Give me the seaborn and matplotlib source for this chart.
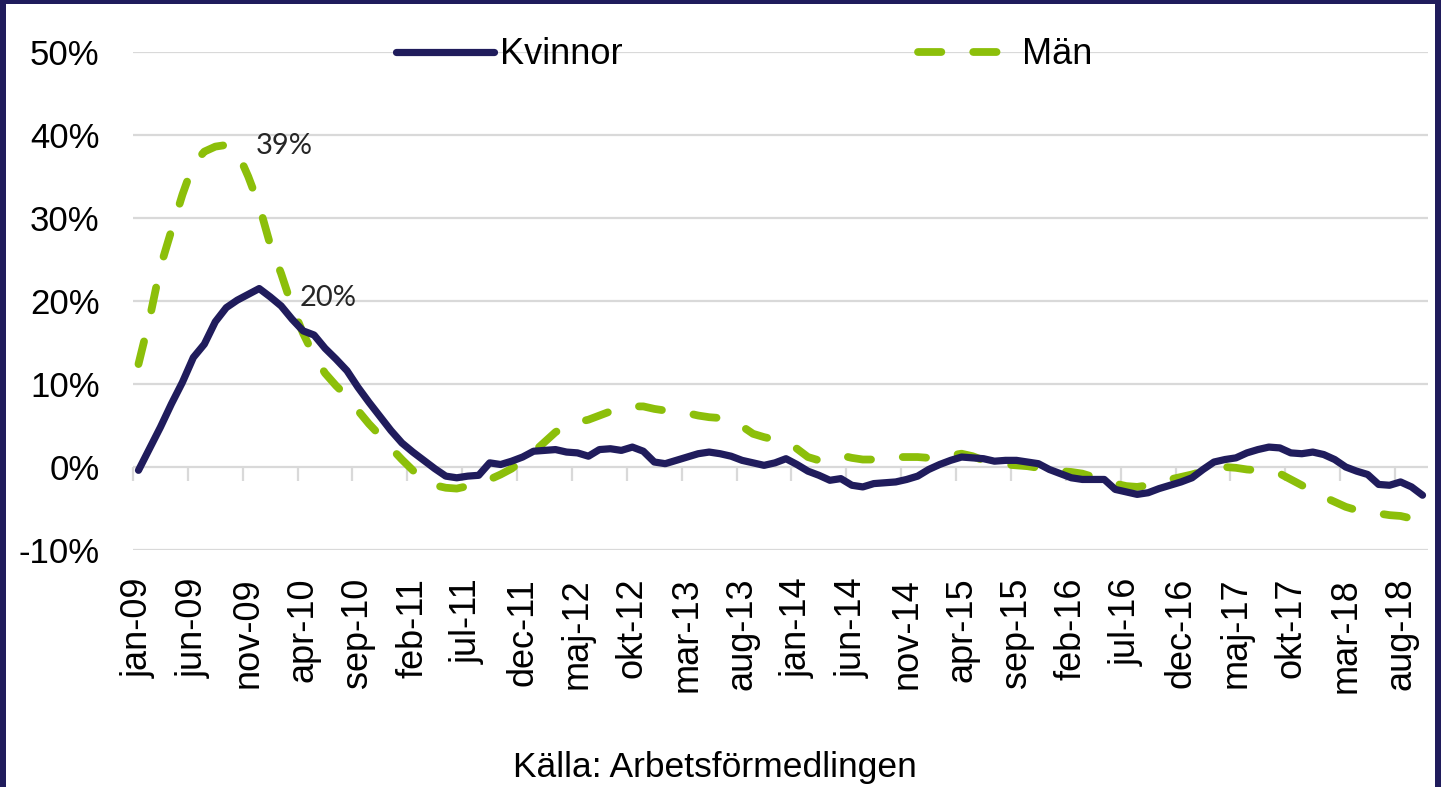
import numpy as np
import pandas as pd
import matplotlib
matplotlib.use("Agg")
import matplotlib.pyplot as plt
import matplotlib.patches as mpatches
from matplotlib.ticker import FuncFormatter
import seaborn as sns

MONTHS = ["jan", "feb", "mar", "apr", "maj", "jun", "jul", "aug", "sep", "okt", "nov", "dec"]
YEARS = ["09", "10", "11", "12", "13", "14", "15", "16", "17", "18"]
categories = [f"{m}-{y}" for y in YEARS for m in MONTHS][:118]   # jan-09 .. okt-18

# change in %
kvinnor = [
    -0.4, 2.2, 4.8, 7.6, 10.2, 13.2, 14.8, 17.5, 19.2, 20.1, 20.8, 21.5,
    20.5, 19.4, 17.8, 16.4, 15.9, 14.3, 13.0, 11.6, 9.6, 7.8, 6.1, 4.4,
    2.9, 1.8, 0.8, -0.2, -1.1, -1.3, -1.1, -1.0, 0.5, 0.3, 0.7, 1.2,
    1.9, 2.0, 2.1, 1.8, 1.7, 1.3, 2.1, 2.2, 2.0, 2.4, 1.9, 0.6,
    0.4, 0.8, 1.2, 1.6, 1.8, 1.6, 1.3, 0.8, 0.5, 0.2, 0.5, 1.0,
    0.3, -0.5, -1.0, -1.6, -1.4, -2.2, -2.4, -2.0, -1.9, -1.8, -1.5, -1.1,
    -0.3, 0.3, 0.8, 1.2, 1.1, 1.0, 0.7, 0.8, 0.8, 0.6, 0.4, -0.3,
    -0.8, -1.3, -1.5, -1.5, -1.5, -2.7, -3.0, -3.3, -3.1, -2.6, -2.2, -1.8,
    -1.3, -0.3, 0.6, 0.9, 1.1, 1.7, 2.1, 2.4, 2.3, 1.7, 1.6, 1.8,
    1.5, 0.9, 0.0, -0.5, -0.9, -2.1, -2.2, -1.8, -2.4, -3.4,
]
man = [
    12.4, 17.8, 24.1, 28.5, 32.8, 36.5, 38.0, 38.6, 38.8, 38.0, 35.0, 31.5,
    26.8, 23.3, 19.3, 16.1, 13.4, 11.3, 9.8, 8.5, 6.8, 5.2, 3.8, 2.3,
    0.9, -0.4, -1.6, -2.2, -2.5, -2.6, -2.3, -2.0, -1.5, -0.9, -0.2, 0.8,
    1.8, 3.0, 4.2, 5.0, 5.4, 5.7, 6.2, 6.7, 7.1, 7.3, 7.3, 7.0,
    6.8, 6.7, 6.5, 6.2, 6.0, 5.9, 5.6, 4.9, 4.0, 3.6, 3.3, 3.0,
    2.2, 1.2, 0.8, 1.1, 1.4, 1.1, 0.9, 0.9, 1.1, 1.2, 1.2, 1.2,
    1.1, 1.1, 1.4, 1.6, 1.3, 0.8, 0.4, 0.3, 0.2, 0.1, -0.1, -0.3,
    -0.5, -0.6, -0.8, -1.2, -1.7, -2.0, -2.3, -2.4, -2.2, -1.8, -1.5, -1.2,
    -0.9, -0.5, -0.1, 0.0, -0.1, -0.3, -0.4, -0.6, -0.8, -1.5, -2.2, -2.9,
    -3.6, -4.2, -4.8, -5.2, -5.4, -5.6, -5.8, -5.9, -6.2, -6.6,
]
label_man = "39%"
label_kvinnor = "20%"

NAVY = "#201c5c"
GREEN = "#8cbf0a"
GRID = "#d9d9d9"

sns.set_style("white")
plt.rcParams["font.family"] = ["Liberation Sans", "DejaVu Sans"]
plt.rcParams["text.color"] = "black"

df = pd.DataFrame({"idx": range(len(categories)), "Kvinnor": kvinnor, "Män": man})

fig = plt.figure(figsize=(14.41, 7.87), dpi=100)
fig.patch.set_facecolor(NAVY)
fig.patches.append(mpatches.Rectangle((6 / 1441, 0), 1429 / 1441, 783 / 787,
                                      transform=fig.transFigure, facecolor="white",
                                      edgecolor="none", zorder=-5))

ax = fig.add_axes([133 / 1441, 237 / 787, 1295 / 1441, 498 / 787])
ax.set_facecolor("none")

sns.lineplot(data=df, x="idx", y="Kvinnor", ax=ax, color=NAVY, lw=5.2,
             solid_capstyle="round", solid_joinstyle="round", label="Kvinnor", zorder=3)
sns.lineplot(data=df, x="idx", y="Män", ax=ax, color=GREEN, lw=5.6,
             linestyle=(0, (3.0, 4.1)), dash_capstyle="round", label="Män", zorder=2)

ax.set_xlim(-0.5, len(categories) - 0.5)
ax.set_ylim(-10, 50)
ax.set_xlabel("")
ax.set_ylabel("")
for s in ax.spines.values():
    s.set_visible(False)

ax.set_yticks(range(-10, 51, 10))
ax.yaxis.set_major_formatter(FuncFormatter(lambda v, p: f"{v:.0f}%"))
ax.yaxis.grid(True, color=GRID, lw=1.6)
ax.xaxis.grid(False)
ax.set_axisbelow(True)
ax.tick_params(axis="y", length=0, pad=24, labelsize=25, labelcolor="black")

pos = list(range(0, len(categories), 5))
ax.set_xticks(pos)
ax.set_xticklabels([categories[i] for i in pos], rotation=90)
ax.tick_params(axis="x", length=0, pad=20, labelsize=26, labelcolor="black")

# category tick marks on the 0% line
sec = ax.secondary_xaxis(10 / 60)
sec.set_xticks(np.arange(-0.5, len(categories) - 1, 5))
sec.tick_params(length=10, width=1.6, color=GRID, labelbottom=False)
for s in sec.spines.values():
    s.set_visible(False)

ax.text(10.7, 38.7, label_man, ha="left", va="center", fontsize=21,
        family=["Lato", "DejaVu Sans"], color="#262626")
ax.text(14.7, 20.4, label_kvinnor, ha="left", va="center", fontsize=21,
        family=["Lato", "DejaVu Sans"], color="#262626")

ax.legend(loc="center", bbox_to_anchor=(0.472, 0.994), ncol=2, frameon=False,
          fontsize=26, handlelength=2.7, handletextpad=0.17, columnspacing=8.2,
          borderpad=0, borderaxespad=0)

fig.text(715 / 1441, 1 - 768 / 787, "Källa: Arbetsförmedlingen", ha="center",
         va="center", fontsize=25.5, color="black")

fig.savefig("out.png", dpi=100, facecolor=fig.get_facecolor())
